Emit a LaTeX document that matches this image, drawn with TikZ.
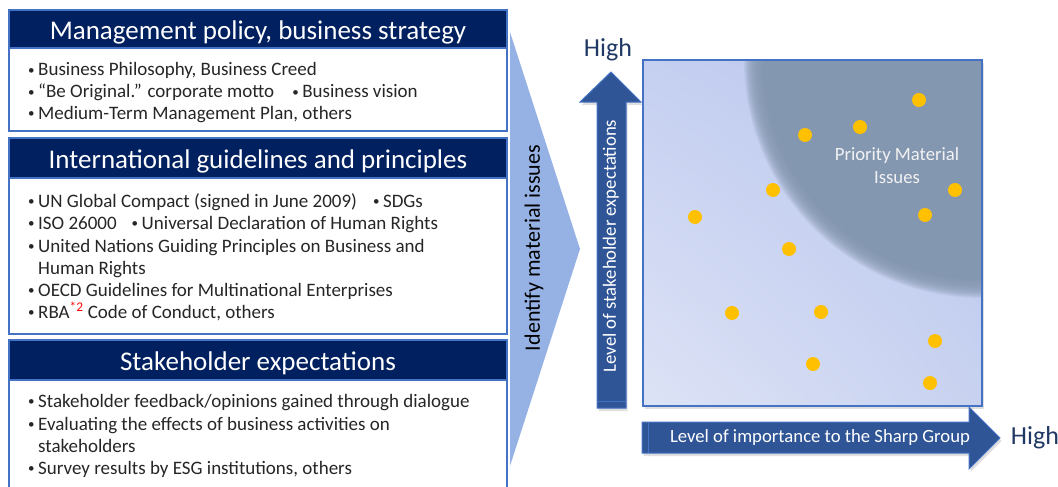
\documentclass[tikz,border=0pt]{standalone}
\usepackage{fontspec}
\setmainfont{Carlito}
\usetikzlibrary{shadows,shadings}
\definecolor{navy}{HTML}{002060}
\definecolor{edgeblue}{HTML}{4472C4}
\definecolor{arrowblue}{HTML}{2F5597}
\definecolor{chevblue}{RGB}{150,178,228}
\definecolor{prioblue}{HTML}{8497B0}
\definecolor{dotgold}{HTML}{FFC000}
\definecolor{hightxt}{HTML}{1F3864}
\definecolor{bodytxt}{HTML}{262626}
\definecolor{gridUL}{RGB}{197,207,240}
\definecolor{gridUR}{RGB}{184,197,238}
\definecolor{gridLL}{RGB}{221,227,246}
\definecolor{gridLR}{RGB}{200,210,240}
\newcommand{\bul}{\makebox[10pt][l]{\fontsize{13}{13}\selectfont\raisebox{1.5pt}{•}}}

\begin{document}
\begin{tikzpicture}[x=1pt, y=-1pt, every node/.style={inner sep=0pt},
    hdr/.style={anchor=base, text=white, font=\fontsize{27}{30}\selectfont},
    itemtxt/.style={anchor=base west, text=bodytxt, font=\fontsize{19}{22}\selectfont},
    axistxt/.style={text=white, font=\fontsize{18.7}{20}\selectfont},
    hightext/.style={text=hightxt, font=\fontsize{26}{28}\selectfont},
    dot/.style={fill=dotgold},
    shad/.style={drop shadow={shadow xshift=1.5pt, shadow yshift=-3pt, opacity=0.25}}]
  \useasboundingbox (0,0) rectangle (1058,487);
  % left side boxes
  \foreach \t/\s/\b in {10/48/131, 138/178/334, 340/380/495}{
    \filldraw[fill=white, draw=edgeblue, line width=2pt] (9,\t) rectangle (507,\b);
    \fill[navy] (10,\t+1) rectangle (506,\s-1);
    \draw[edgeblue, line width=2pt] (9,\s) -- (507,\s);
  }
  \node[hdr] (mgmt) at (258,40) {Management policy, business strategy};
  \node[hdr] (intl) at (258,168.5) {International guidelines and principles};
  \node[hdr] (stake) at (258,370.5) {Stakeholder expectations};
  \foreach \y/\txt in {76/{\bul Business Philosophy, Business Creed},
      98/{\bul “Be Original.” corporate motto\hspace{18pt}\bul Business vision},
      119/{\bul Medium-Term Management Plan, others},
      207/{\bul UN Global Compact (signed in June 2009)\hspace{16pt}\bul SDGs},
      229/{\bul ISO 26000\hspace{15pt}\bul Universal Declaration of Human Rights},
      252/{\bul United Nations Guiding Principles on Business and},
      274/{\hspace{10pt}Human Rights},
      296/{\bul OECD Guidelines for Multinational Enterprises},
      318/{\bul RBA\textsuperscript{\color{red}*2} Code of Conduct, others},
      407/{\bul Stakeholder feedback/opinions gained through dialogue},
      430/{\bul Evaluating the effects of business activities on},
      452/{\hspace{10pt}stakeholders},
      474/{\bul Survey results by ESG institutions, others}}
    \node[itemtxt] at (28,\y) {\txt};
  % chevron
  \fill[chevblue] (510,32) -- (580,249) -- (510,466) -- cycle;
  \node[rotate=90, text=black, font=\fontsize{22}{24}\selectfont] (ident) at (534,248) {Identify material issues};
  % matrix
  \fill[white, shad] (643,60) rectangle (982,406);
  \shade[upper left=gridUL, upper right=gridUR, lower left=gridLL, lower right=gridLR]
    (643,60) rectangle (982,406);
  \begin{scope}
    \clip (643,60) rectangle (982,406);
    \foreach \r in {238,237,...,220}
      \fill[prioblue, opacity=0.13] (982,60) circle (\r);
    \fill[prioblue] (982,60) circle (219);
  \end{scope}
  \draw[edgeblue, line width=1.5pt] (643,60) rectangle (982,406);
  \node[align=center, text=white!95!black, font=\fontsize{18.7}{23}\selectfont] (prio) at (897,166) {Priority Material\\Issues};
  \foreach \x/\y in {919/100, 860/127, 805/135, 773/190, 695/217, 789/249, 955/190,
      925/215, 732/313, 821/312, 935/341, 813/364, 930/383}
    \fill[dot] (\x,\y) circle (7);
  % axes
  \filldraw[fill=arrowblue, draw=edgeblue, line width=1pt, shad] (597,408) -- (597,102) -- (580,102) -- (611,72)
    -- (641,102) -- (626,102) -- (626,408) -- cycle;
  \draw[edgeblue, line width=1pt] (597,401) -- (626,401);
  \node[axistxt, rotate=90] (vert) at (611,246) {Level of stakeholder expectations};
  \filldraw[fill=arrowblue, draw=edgeblue, line width=1pt, shad] (642,422) -- (969,422) -- (969,407) -- (1000,438)
    -- (969,469) -- (969,453) -- (642,453) -- cycle;
  \draw[edgeblue, line width=1pt] (648,422) -- (648,453);
  \node[axistxt] (horiz) at (820,438) {Level of importance to the Sharp Group};
  \node[hightext] (highv) at (608,50) {High};
  \node[hightext] (highh) at (1035,438) {High};
\end{tikzpicture}
\end{document}
